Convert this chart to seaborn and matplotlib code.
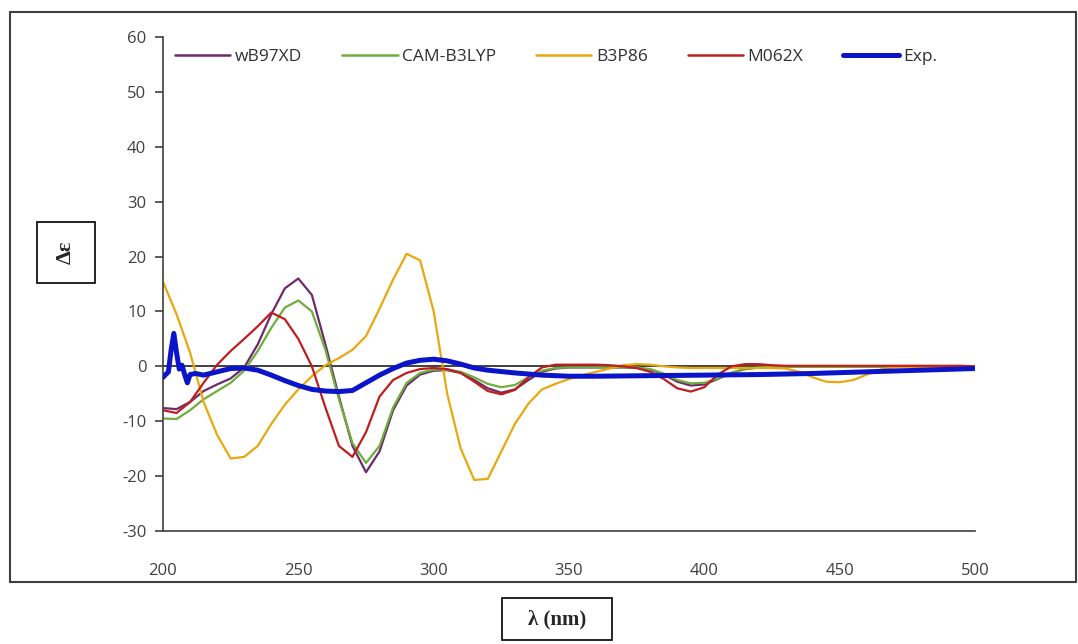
import numpy as np
import pandas as pd
import matplotlib
matplotlib.use("Agg")
import matplotlib.pyplot as plt
from matplotlib.patches import Rectangle
from matplotlib.lines import Line2D
import seaborn as sns

# ---------------- data ----------------
wavelength = list(range(200, 505, 5))

wB97XD = [-7.6, -7.8, -6.5, -4.5, -3.3, -2.2, -0.2, 4.0, 9.5, 14.2,
          16.0, 13.0, 4.0, -5.5, -14.5, -19.3, -15.5, -8.0, -3.5, -1.5,
          -0.8, -0.7, -1.2, -2.5, -4.0, -4.8, -4.2, -2.5, -1.0, -0.4,
          -0.2, -0.2, -0.2, -0.2, -0.2, -0.3, -0.6, -1.5, -2.8, -3.5,
          -3.3, -2.3, -1.2, -0.5, -0.2, -0.1, -0.1, -0.1, -0.1, -0.1,
          -0.1, -0.1, -0.1, -0.1, -0.1, -0.1, -0.1, -0.1, -0.1, -0.1, 0.0]

CAM_B3LYP = [-9.5, -9.6, -8.0, -6.0, -4.5, -3.0, -0.8, 2.8, 7.0, 10.7,
             12.0, 10.0, 3.0, -6.0, -14.0, -17.6, -14.5, -7.5, -3.0, -1.2,
             -0.6, -0.6, -1.0, -2.0, -3.2, -3.8, -3.4, -2.0, -0.8, -0.3,
             -0.2, -0.2, -0.2, -0.2, -0.2, -0.2, -0.5, -1.3, -2.5, -3.1,
             -3.0, -2.2, -1.2, -0.5, -0.2, -0.1, -0.1, -0.1, -0.1, -0.1,
             -0.1, -0.1, -0.1, -0.1, -0.1, -0.1, -0.1, -0.1, -0.1, -0.1, 0.0]

B3P86 = [15.4, 9.5, 2.5, -6.5, -12.5, -16.8, -16.5, -14.5, -10.5, -7.0,
         -4.2, -1.8, 0.2, 1.5, 3.0, 5.5, 10.5, 15.8, 20.5, 19.3,
         10.0, -5.0, -15.0, -20.7, -20.5, -15.5, -10.5, -6.8, -4.2, -3.2,
         -2.3, -1.6, -1.0, -0.4, 0.2, 0.4, 0.3, 0.0, -0.2, -0.3,
         -0.3, -0.3, -0.3, -0.3, -0.3, -0.3, -0.4, -1.0, -2.0, -2.8,
         -2.9, -2.5, -1.5, -0.6, -0.2, -0.1, -0.1, -0.1, -0.1, -0.1, 0.0]

M062X = [-8.0, -8.5, -6.5, -3.0, 0.3, 2.8, 5.0, 7.3, 9.8, 8.6,
         5.0, 0.0, -7.5, -14.5, -16.5, -12.0, -5.5, -2.5, -1.2, -0.5,
         -0.3, -0.5, -1.2, -2.8, -4.5, -5.1, -4.3, -2.0, -0.2, 0.3,
         0.3, 0.3, 0.3, 0.2, 0.0, -0.3, -1.0, -2.3, -4.0, -4.6,
         -3.8, -1.5, 0.0, 0.4, 0.4, 0.2, 0.1, 0.1, 0.1, 0.1,
         0.1, 0.1, 0.1, 0.1, 0.1, 0.1, 0.1, 0.1, 0.1, 0.1, 0.0]

exp_wavelength = [200, 202, 203, 204, 205, 206, 207, 208, 209, 210, 212, 215,
                  220, 225, 230, 235, 240, 245, 250, 255, 260, 265, 270, 275,
                  280, 285, 290, 295, 300, 305, 310, 315, 320, 330, 340, 350,
                  360, 380, 400, 420, 440, 460, 480, 500]
Exp = [-2.0, -1.0, 3.0, 6.0, 2.5, -0.5, 0.2, -1.5, -3.0, -1.5, -1.3, -1.6,
       -1.0, -0.4, -0.3, -0.7, -1.6, -2.6, -3.5, -4.2, -4.5, -4.6, -4.4, -3.0,
       -1.6, -0.4, 0.6, 1.1, 1.3, 1.0, 0.4, -0.3, -0.7, -1.2, -1.6, -1.8,
       -1.8, -1.7, -1.6, -1.5, -1.3, -1.0, -0.7, -0.4]

series_names = ["wB97XD", "CAM-B3LYP", "B3P86", "M062X", "Exp."]
colors = {"wB97XD": "#6F2A6B", "CAM-B3LYP": "#6FAE3E", "B3P86": "#E8A90E",
          "M062X": "#BF1E1E", "Exp.": "#0A14C8"}
y_ticks = [-30, -20, -10, 0, 10, 20, 30, 40, 50, 60]
x_ticks = [200, 250, 300, 350, 400, 450, 500]

calc = pd.DataFrame({"wavelength": wavelength, "wB97XD": wB97XD,
                     "CAM-B3LYP": CAM_B3LYP, "B3P86": B3P86, "M062X": M062X})
calc_long = calc.melt(id_vars="wavelength", var_name="series", value_name="de")
exp_df = pd.DataFrame({"wavelength": exp_wavelength, "de": Exp, "series": "Exp."})

# ---------------- style ----------------
sns.set_theme(style="white")
plt.rcParams["font.family"] = ["Open Sans", "DejaVu Sans"]
plt.rcParams["axes.unicode_minus"] = False
plt.rcParams["lines.solid_joinstyle"] = "round"

W, H = 1078, 644
fig = plt.figure(figsize=(W / 100, H / 100), dpi=100)
ax = fig.add_axes([163 / W, 1 - 531 / H, (975 - 163) / W, (531 - 37) / H])

ax.axhline(0, color="#404040", lw=1.4, zorder=1)

sns.lineplot(data=calc_long, x="wavelength", y="de", hue="series",
             hue_order=series_names[:4], palette=colors, lw=1.6, ax=ax,
             legend=False, zorder=2)
sns.lineplot(data=exp_df, x="wavelength", y="de", color=colors["Exp."],
             lw=3.6, ax=ax, legend=False, zorder=3)

ax.set_xlim(200, 500)
ax.set_ylim(-30, 60)
ax.set_xticks(x_ticks)
ax.set_yticks(y_ticks)
ax.set_xlabel("")
ax.set_ylabel("")
for s in ["top", "right"]:
    ax.spines[s].set_visible(False)
for s in ["left", "bottom"]:
    ax.spines[s].set_color("#404040")
    ax.spines[s].set_linewidth(1.2)
ax.tick_params(axis="y", which="major", left=True, length=6, width=1.2,
               color="#404040", labelsize=12, labelcolor="#404040", pad=6)
ax.tick_params(axis="x", which="major", bottom=False, labelsize=12,
               labelcolor="#404040", pad=17)
ax.grid(False)

# legend
handles = [Line2D([0], [0], color=colors[n], lw=(3.6 if n == "Exp." else 1.8))
           for n in series_names]
ax.legend(handles, series_names, loc="center", bbox_to_anchor=(0.484, 0.96),
          ncol=5, frameon=False, fontsize=12.5, handlelength=3.2,
          handletextpad=0.25, columnspacing=2.3, labelcolor="#303030")

# outer frame
fig.patches.append(Rectangle((10 / W, 1 - 582 / H), (1076 - 10) / W, (582 - 12) / H,
                             transform=fig.transFigure, fill=False,
                             edgecolor="#404040", lw=1.5))

# y label box
fig.patches.append(Rectangle((37 / W, 1 - 283 / H), 58 / W, 61 / H,
                             transform=fig.transFigure, fill=False,
                             edgecolor="black", lw=1.2))
fig.text(66 / W, 1 - 252 / H, "Δε", rotation=90, ha="center", va="center",
         fontsize=16, fontweight="bold", family=["Liberation Serif", "DejaVu Serif"])

# x label box
fig.patches.append(Rectangle((502 / W, 1 - 640 / H), 110 / W, 42 / H,
                             transform=fig.transFigure, fill=False,
                             edgecolor="black", lw=1.2))
fig.text(557 / W, 1 - 619 / H, "λ (nm)", ha="center", va="center",
         fontsize=15, fontweight="bold", family=["Liberation Serif", "DejaVu Serif"])

fig.savefig("out.png", dpi=100)
